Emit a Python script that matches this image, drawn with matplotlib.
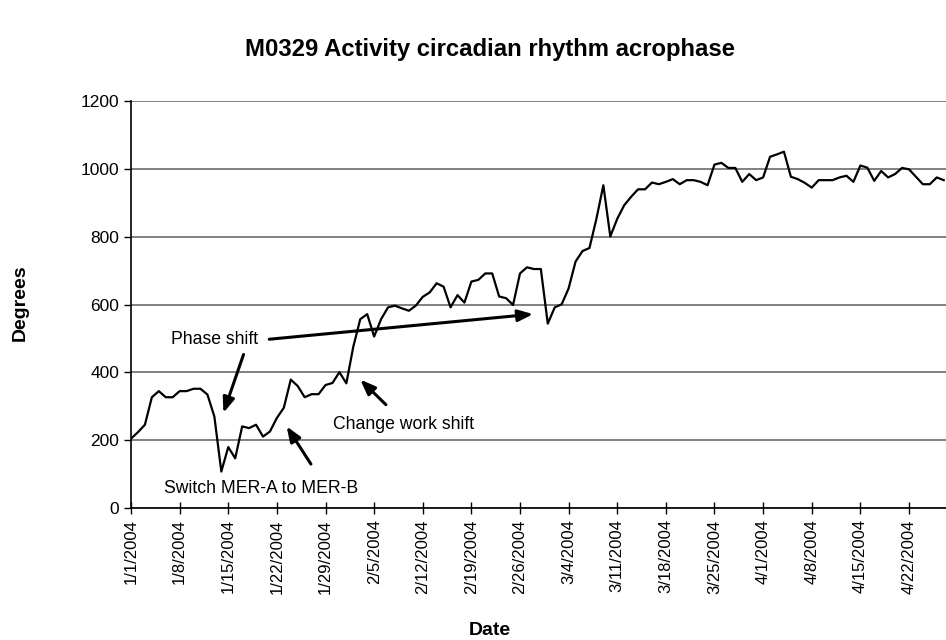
"""Activity circadian rhythm acrophase for subject M0329."""

import datetime as dt

import matplotlib

matplotlib.use("Agg")
import matplotlib.pyplot as plt
import numpy as np

plt.rcParams["font.family"] = ["Liberation Sans", "DejaVu Sans"]

START = dt.date(2004, 1, 1)

# daily acrophase in degrees, starting 1/1/2004
acrophase = [
    205, 224, 246, 327, 345, 327, 327, 345, 345, 352,
    352, 335, 270, 108, 180, 147, 241, 236, 246, 211,
    226, 266, 296, 379, 360, 327, 336, 336, 363, 369,
    401, 368, 476, 557, 572, 506, 557, 592, 597, 589,
    582, 597, 623, 636, 663, 653, 592, 628, 606, 668,
    673, 692, 692, 624, 619, 599, 692, 710, 705, 705,
    544, 592, 601, 648, 727, 758, 767, 853, 952, 801,
    853, 893, 918, 940, 940, 960, 955, 962, 970, 955,
    967, 967, 962, 952, 1013, 1018, 1003, 1003, 962, 985,
    967, 975, 1036, 1043, 1051, 977, 970, 959, 945, 967,
    967, 967, 975, 980, 962, 1010, 1004, 965, 994, 975,
    985, 1003, 999, 977, 955, 955, 975, 967,
]
days = np.arange(len(acrophase))
tick_days = np.arange(0, len(acrophase), 7)
tick_labels = []
for d in tick_days:
    date = START + dt.timedelta(days=int(d))
    tick_labels.append(f"{date.month}/{date.day}/{date.year}")

y_ticks = [0, 200, 400, 600, 800, 1000, 1200]

# (text, text position, arrow tail, arrow tip) in day / degree units
notes = [
    ("Phase shift", (12.0, 498), (19.9, 498), (57.9, 572)),
    (None, None, (16.2, 453), (13.3, 281)),
    ("Change work shift", (39.3, 246), (36.7, 305), (33.0, 379)),
    ("Switch MER-A to MER-B", (18.7, 59), (25.9, 130), (22.4, 241)),
]

fig = plt.figure(figsize=(9.46, 6.4), dpi=100)
ax = fig.add_axes([0.1385, 0.206, 0.8615, 0.636])

ax.plot(days, acrophase, color="black", linewidth=1.6, zorder=3)

ax.set_xlim(0, 117.33)
ax.set_ylim(0, 1200)
ax.set_yticks(y_ticks)
ax.set_xticks(tick_days)
ax.set_xticklabels(tick_labels, rotation=90, fontsize=12)
ax.tick_params(axis="y", labelsize=12.5, direction="out", length=5, width=1)
ax.tick_params(axis="x", direction="inout", length=8, width=1, pad=4)
ax.grid(True, axis="y", color="#808080", linewidth=1.4)
ax.set_axisbelow(True)
for side in ("top", "right"):
    ax.spines[side].set_visible(False)
for side in ("left", "bottom"):
    ax.spines[side].set_color("black")
    ax.spines[side].set_linewidth(1.2)

for text, text_xy, tail, tip in notes:
    ax.annotate(
        "",
        xy=tip,
        xytext=tail,
        arrowprops=dict(arrowstyle="-|>,head_length=0.9,head_width=0.35",
                        color="black", lw=2.2, shrinkA=0, shrinkB=0),
        zorder=4,
    )
    if text:
        ax.text(text_xy[0], text_xy[1], text, ha="center", va="center", fontsize=12.7)

fig.text(0.021, 0.527, "Degrees", rotation=90, ha="center", va="center",
         fontsize=14, fontweight="bold")
fig.text(0.518, 0.008, "Date", ha="center", va="baseline", fontsize=14, fontweight="bold")
fig.text(0.518, 0.922, "M0329 Activity circadian rhythm acrophase", ha="center",
         va="center", fontsize=17.2, fontweight="bold")

fig.savefig("out.png", dpi=100)
